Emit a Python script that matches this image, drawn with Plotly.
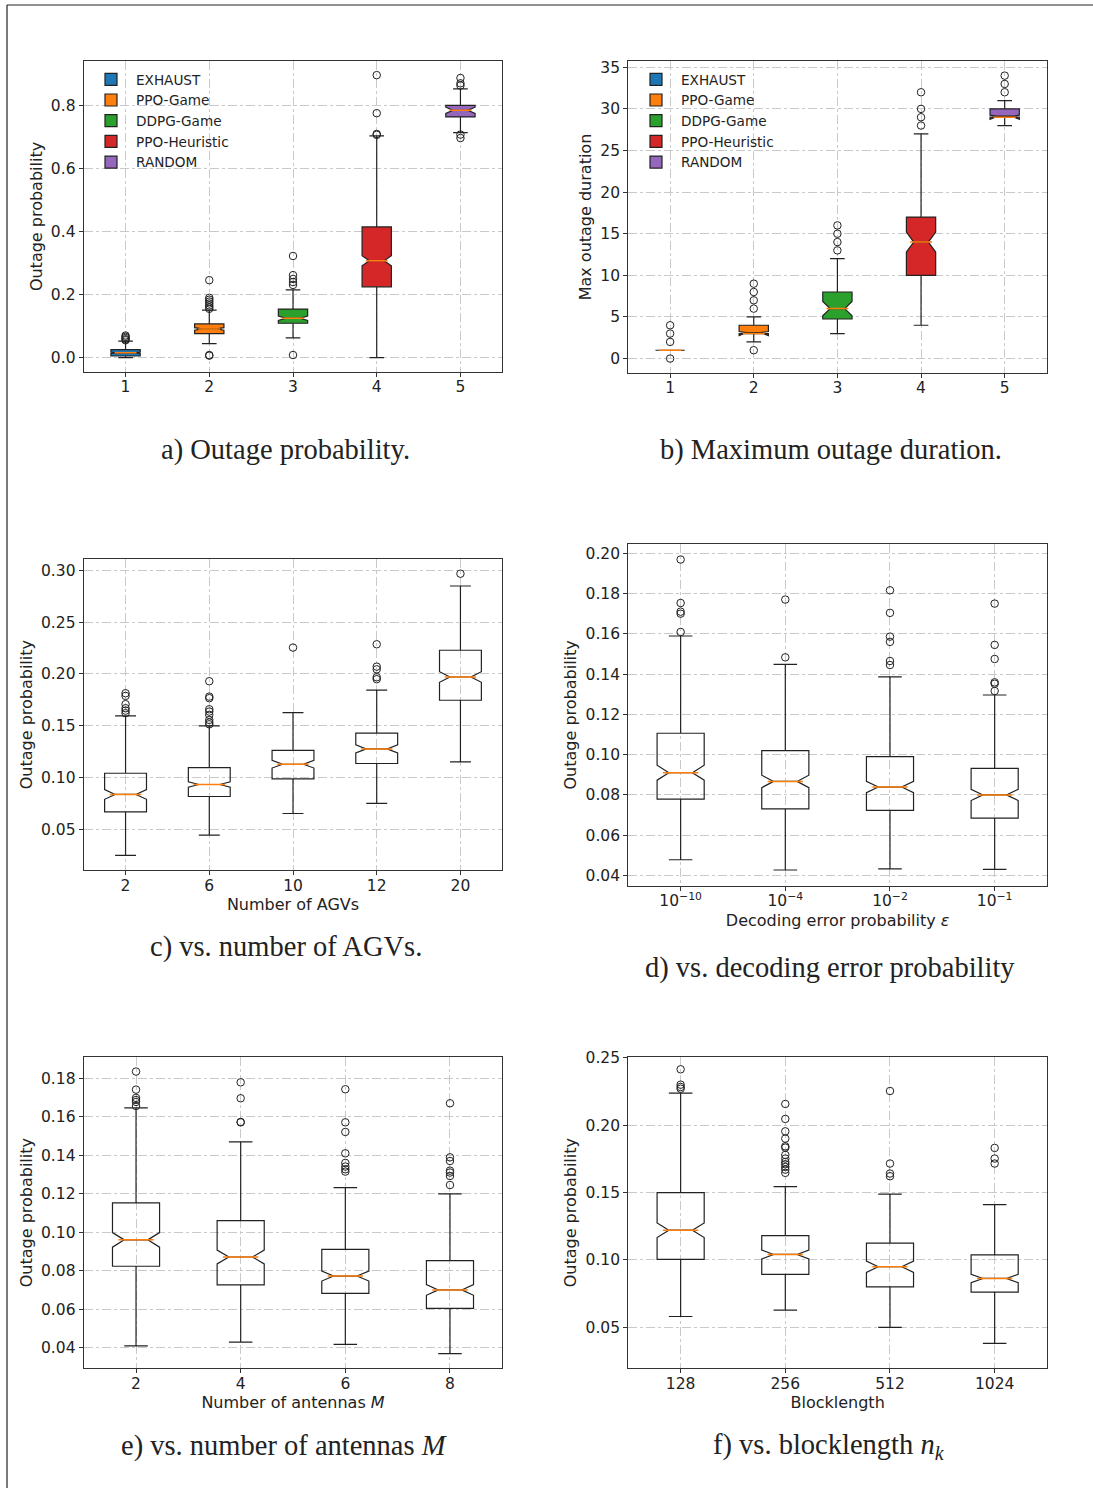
import plotly.graph_objects as go

W, H = 1093, 1488

# ---------------- data ----------------
METHODS = ["EXHAUST", "PPO-Game", "DDPG-Game", "PPO-Heuristic", "RANDOM"]
METHOD_COLORS = ["#1f77b4", "#ff7f0e", "#2ca02c", "#d62728", "#9467bd"]
METHOD_TICKS = ["1", "2", "3", "4", "5"]

# (a) outage probability per scheme
A_Q1 = [0.005, 0.076, 0.109, 0.225, 0.765]
A_MED = [0.015, 0.091, 0.125, 0.308, 0.786]
A_Q3 = [0.025, 0.107, 0.154, 0.4155, 0.802]
A_LO = [0.0, 0.0445, 0.0626, 0.0, 0.715]
A_HI = [0.052, 0.151, 0.215, 0.705, 0.854]
A_NOTCH = [0.002, 0.004, 0.007, 0.016, 0.010]
A_OUT = [
    [0.055, 0.058, 0.062, 0.066, 0.070],
    [0.006, 0.008, 0.155, 0.160, 0.166, 0.172, 0.178, 0.184, 0.190, 0.246],
    [0.008, 0.231, 0.240, 0.250, 0.262, 0.323],
    [0.708, 0.711, 0.777, 0.898],
    [0.698, 0.709, 0.865, 0.872, 0.889],
]

# (b) maximum outage duration per scheme
B_Q1 = [1, 3, 4.75, 10, 29]
B_MED = [1, 3, 6, 14, 29]
B_Q3 = [1, 4, 8, 17, 30]
B_LO = [1, 2, 3, 4, 28]
B_HI = [1, 5, 12, 27, 31]
B_NOTCH = [0.0, 0.25, 0.85, 1.2, 0.25]
B_OUT = [
    [0, 2, 3, 4],
    [1, 6, 7, 8, 9],
    [13, 14, 15, 16],
    [28, 29, 30, 32],
    [32, 33, 34],
]

# (c) outage probability vs. number of AGVs
AGV_COUNTS = ["2", "6", "10", "12", "20"]
C_Q1 = [0.0667, 0.0815, 0.0986, 0.1134, 0.1745]
C_MED = [0.0835, 0.0931, 0.1127, 0.1275, 0.1970]
C_Q3 = [0.1040, 0.1095, 0.1260, 0.1427, 0.2228]
C_LO = [0.0246, 0.0442, 0.0651, 0.0748, 0.1150]
C_HI = [0.1594, 0.1497, 0.1626, 0.1842, 0.2849]
C_NOTCH = [0.0047, 0.0026, 0.0037, 0.0039, 0.0051]
C_OUT = [
    [0.1620, 0.1645, 0.1668, 0.1707, 0.1787, 0.1813],
    [0.1513, 0.1530, 0.1555, 0.1604, 0.1636, 0.1658, 0.1765, 0.1780, 0.1929],
    [0.2254],
    [0.1948, 0.1967, 0.2044, 0.2070, 0.2286],
    [0.2968],
]

# (d) outage probability vs. decoding error probability
EPS_LABELS = ["10<sup>\u221210</sup>", "10<sup>\u22124</sup>", "10<sup>\u22122</sup>", "10<sup>\u22121</sup>"]
D_Q1 = [0.0779, 0.0731, 0.0723, 0.0685]
D_MED = [0.0910, 0.0867, 0.0839, 0.0800]
D_Q3 = [0.1106, 0.1020, 0.0990, 0.0932]
D_LO = [0.0478, 0.0427, 0.0433, 0.0430]
D_HI = [0.1589, 0.1448, 0.1386, 0.1296]
D_NOTCH = [0.0037, 0.0031, 0.0028, 0.0028]
D_OUT = [
    [0.1609, 0.1700, 0.1710, 0.1753, 0.1969],
    [0.1483, 0.1770],
    [0.1445, 0.1465, 0.1560, 0.1586, 0.1704, 0.1816],
    [0.1316, 0.1352, 0.1359, 0.1475, 0.1545, 0.1750],
]

# (e) outage probability vs. number of antennas M
ANTENNAS = ["2", "4", "6", "8"]
E_Q1 = [0.0823, 0.0726, 0.0682, 0.0604]
E_MED = [0.0960, 0.0871, 0.0772, 0.0700]
E_Q3 = [0.1152, 0.1060, 0.0911, 0.0852]
E_LO = [0.0409, 0.0428, 0.0417, 0.0369]
E_HI = [0.1646, 0.1469, 0.1232, 0.1199]
E_NOTCH = [0.0038, 0.0036, 0.0026, 0.0028]
E_OUT = [
    [0.1656, 0.1677, 0.1687, 0.1698, 0.1741, 0.1835],
    [0.1571, 0.1573, 0.1696, 0.1779],
    [0.1315, 0.1327, 0.1341, 0.1360, 0.1410, 0.1521, 0.1571, 0.1743],
    [0.1245, 0.1292, 0.1310, 0.1320, 0.1370, 0.1389, 0.1670],
]

# (f) outage probability vs. blocklength n_k
BLOCKLENGTHS = ["128", "256", "512", "1024"]
F_Q1 = [0.1004, 0.0893, 0.0801, 0.0762]
F_MED = [0.1221, 0.1041, 0.0950, 0.0863]
F_Q3 = [0.1500, 0.1181, 0.1125, 0.1038]
F_LO = [0.0581, 0.0628, 0.0500, 0.0381]
F_HI = [0.2238, 0.1544, 0.1488, 0.1411]
F_NOTCH = [0.0054, 0.0033, 0.0042, 0.0031]
F_OUT = [
    [0.2270, 0.2283, 0.2300, 0.2414],
    [0.1646, 0.1670, 0.1690, 0.1710, 0.1727, 0.1752, 0.1779, 0.1833, 0.1843,
     0.1900, 0.1954, 0.2046, 0.2157],
    [0.1621, 0.1641, 0.1715, 0.2253],
    [0.1715, 0.1752, 0.1831],
]

# ---------------- styling ----------------
FONT = "DejaVu Sans"
SERIF = "Liberation Serif"
INK = "#222222"
FRAME = "#333333"
GRID = "#c9c9c9"
MEDIAN = "#ff7f0e"
NOTCH_W = 0.25


def xdom(left, right):
    return [left / W, right / W]


def ydom(top, bottom):
    return [1 - bottom / H, 1 - top / H]


fig = go.Figure()


def add_panel(k, ticks, q1, med, q3, lo, hi, notch, outliers, width,
              fills=None, names=None, legend=None):
    xa = "x" if k == 1 else f"x{k}"
    ya = "y" if k == 1 else f"y{k}"
    pos = list(range(1, len(ticks) + 1))
    box_line = dict(color=INK, width=1.2)
    if fills is None:
        fig.add_trace(go.Box(
            x=pos, q1=q1, median=med, q3=q3, lowerfence=lo, upperfence=hi,
            notchspan=notch, notched=True, notchwidth=NOTCH_W, width=width,
            whiskerwidth=0.5, fillcolor="rgba(0,0,0,0)", line=box_line,
            boxpoints=False, showlegend=False, hoverinfo="skip",
            xaxis=xa, yaxis=ya))
    else:
        for i in range(len(pos)):
            fig.add_trace(go.Box(
                x=[pos[i]], q1=[q1[i]], median=[med[i]], q3=[q3[i]],
                lowerfence=[lo[i]], upperfence=[hi[i]], notchspan=[notch[i]],
                notched=True, notchwidth=NOTCH_W, width=width, whiskerwidth=0.5,
                fillcolor=fills[i], line=box_line, name=names[i],
                boxpoints=False, legend=legend, hoverinfo="skip",
                xaxis=xa, yaxis=ya))
    # orange median bars across the notch waist
    half = width / 2 * (1 - NOTCH_W)
    mx, my = [], []
    for p, m in zip(pos, med):
        mx += [p - half, p + half, None]
        my += [m, m, None]
    fig.add_trace(go.Scatter(x=mx, y=my, mode="lines",
                             line=dict(color=MEDIAN, width=1.5),
                             showlegend=False, hoverinfo="skip",
                             xaxis=xa, yaxis=ya))
    # fliers
    ox, oy = [], []
    for p, vals in zip(pos, outliers):
        ox += [p] * len(vals)
        oy += list(vals)
    fig.add_trace(go.Scatter(x=ox, y=oy, mode="markers",
                             marker=dict(symbol="circle-open", size=7.5,
                                         color=INK, line=dict(width=1)),
                             showlegend=False, hoverinfo="skip",
                             xaxis=xa, yaxis=ya))
    return pos


add_panel(1, METHOD_TICKS, A_Q1, A_MED, A_Q3, A_LO, A_HI, A_NOTCH, A_OUT, 0.35,
          fills=METHOD_COLORS, names=METHODS, legend="legend")
add_panel(2, METHOD_TICKS, B_Q1, B_MED, B_Q3, B_LO, B_HI, B_NOTCH, B_OUT, 0.35,
          fills=METHOD_COLORS, names=METHODS, legend="legend2")
add_panel(3, AGV_COUNTS, C_Q1, C_MED, C_Q3, C_LO, C_HI, C_NOTCH, C_OUT, 0.5)
add_panel(4, EPS_LABELS, D_Q1, D_MED, D_Q3, D_LO, D_HI, D_NOTCH, D_OUT, 0.45)
add_panel(5, ANTENNAS, E_Q1, E_MED, E_Q3, E_LO, E_HI, E_NOTCH, E_OUT, 0.45)
add_panel(6, BLOCKLENGTHS, F_Q1, F_MED, F_Q3, F_LO, F_HI, F_NOTCH, F_OUT, 0.45)

# panel frames (pixel boxes), y ranges, y ticks, titles
PANELS = [
    dict(x=(83.7, 502.3), y=(61.3, 371.7), ticks=METHOD_TICKS,
         yr=[-0.045, 0.942], dtick=0.2, fmt=".1f",
         ytitle="Outage probability", xtitle=None),
    dict(x=(628.3, 1046.5), y=(61.3, 372.7), ticks=METHOD_TICKS,
         yr=[-1.7, 35.72], dtick=5, fmt="d",
         ytitle="Max outage duration", xtitle=None),
    dict(x=(83.7, 502.3), y=(559.3, 870.0), ticks=AGV_COUNTS,
         yr=[0.0105, 0.3107], dtick=0.05, fmt=".2f",
         ytitle="Outage probability", xtitle="Number of AGVs"),
    dict(x=(628.3, 1047.0), y=(544.0, 885.7), ticks=EPS_LABELS,
         yr=[0.0349, 0.2046], dtick=0.02, fmt=".2f",
         ytitle="Outage probability",
         xtitle="Decoding error probability <i>\u03b5</i>"),
    dict(x=(83.7, 502.3), y=(1057.3, 1368.0), ticks=ANTENNAS,
         yr=[0.0294, 0.1909], dtick=0.02, fmt=".2f",
         ytitle="Outage probability", xtitle="Number of antennas <i>M</i>"),
    dict(x=(628.3, 1047.0), y=(1057.3, 1368.0), ticks=BLOCKLENGTHS,
         yr=[0.0199, 0.2503], dtick=0.05, fmt=".2f",
         ytitle="Outage probability", xtitle="Blocklength"),
]

tick_font = dict(family=FONT, size=15.5, color=INK)
title_font = dict(family=FONT, size=16, color=INK)
axis_common = dict(showline=True, mirror=True, linecolor=FRAME, linewidth=1.2,
                   ticks="outside", ticklen=4, tickwidth=1, tickcolor=FRAME,
                   showgrid=True, gridcolor=GRID, gridwidth=0.8,
                   griddash="dashdot", zeroline=False, tickfont=tick_font,
                   fixedrange=True)

for k, p in enumerate(PANELS, start=1):
    sfx = "" if k == 1 else str(k)
    n = len(p["ticks"])
    xaxis = dict(axis_common, domain=xdom(*p["x"]), anchor=f"y{sfx}",
                 range=[0.5, n + 0.5], tickmode="array",
                 tickvals=list(range(1, n + 1)), ticktext=p["ticks"],
                 ticklabelstandoff=-3)
    if p["xtitle"]:
        xaxis["title"] = dict(text=p["xtitle"], font=title_font, standoff=5)
    yaxis = dict(axis_common, domain=ydom(*p["y"]), anchor=f"x{sfx}",
                 range=p["yr"], dtick=p["dtick"], tick0=0, tickformat=p["fmt"],
                 title=dict(text=p["ytitle"], font=title_font, standoff=4))
    fig.layout[f"xaxis{sfx}"] = xaxis
    fig.layout[f"yaxis{sfx}"] = yaxis

# sub-figure captions
CAPTIONS = [
    ("a) Outage probability.", 285.5, 450),
    ("b) Maximum outage duration.", 830.5, 450),
    ("c) vs. number of AGVs.", 286, 947),
    ("d) vs. decoding error probability", 829.5, 968),
    ("e) vs. number of antennas <i>M</i>", 284.5, 1446),
    ("f) vs. blocklength <i>n<sub>k</sub></i>", 829, 1446),
]
for text, cx, cy in CAPTIONS:
    fig.add_annotation(text=text, x=cx / W, y=1 - cy / H, xref="paper",
                       yref="paper", showarrow=False, xanchor="center",
                       yanchor="middle",
                       font=dict(family=SERIF, size=28.5, color=INK))

# outer page rule along the top and left edges
top_y = 1 - 5 / H
left_x = 7 / W
fig.add_shape(type="line", xref="paper", yref="paper", x0=left_x, x1=1,
              y0=top_y, y1=top_y, line=dict(color=INK, width=1.2))
fig.add_shape(type="line", xref="paper", yref="paper", x0=left_x, x1=left_x,
              y0=0, y1=top_y, line=dict(color=INK, width=1.2))

legend_style = dict(bgcolor="rgba(0,0,0,0)", borderwidth=0, xanchor="left",
                    yanchor="top", tracegroupgap=0, itemwidth=40,
                    font=dict(family=FONT, size=13.6, color=INK))

fig.update_layout(
    width=W, height=H, margin=dict(l=0, r=0, t=0, b=0, autoexpand=False),
    paper_bgcolor="white", plot_bgcolor="white", boxmode="overlay",
    hovermode=False, font=dict(family=FONT, color=INK),
    legend=dict(legend_style, x=86 / W, y=1 - 64 / H),
    legend2=dict(legend_style, x=631 / W, y=1 - 64 / H),
)

fig.write_html("out.html")
